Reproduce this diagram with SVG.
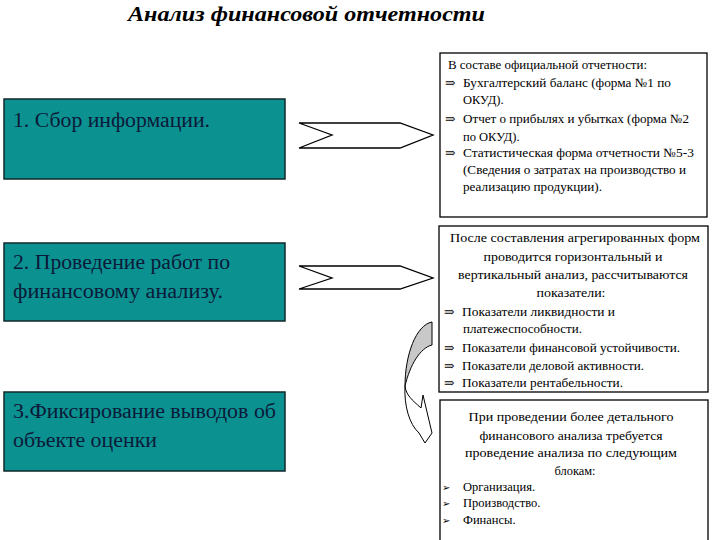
<svg xmlns="http://www.w3.org/2000/svg" width="720" height="540" viewBox="0 0 720 540">
<style>
.bg{fill:#ffffff}
.step{fill:#0c9191;stroke:#10282a;stroke-width:1.5}
.st{font-family:'Liberation Serif','Times New Roman',Times,'Noto Serif','DejaVu Serif',serif;font-size:20px;fill:#0a1a38}
.box{fill:#ffffff;stroke:#000000;stroke-width:1.3}
.t{font-family:'Liberation Serif','Times New Roman',Times,'Noto Serif','DejaVu Serif',serif;font-size:12.5px;fill:#000000}
.c{text-anchor:middle}
.title{font-family:'Liberation Serif','Times New Roman',Times,'Noto Serif','DejaVu Serif',serif;font-size:21px;font-weight:bold;font-style:italic;fill:#000000}
.chev{fill:#ffffff;stroke:#000000;stroke-width:1.3}
.curveg{fill:#c8c8c8;stroke:#000000;stroke-width:1}
.curvew{fill:#ffffff;stroke:#000000;stroke-width:1}
.bul{font-family:'DejaVu Sans',sans-serif;font-size:10px;fill:#000000}
</style>
<rect class="bg" x="0" y="0" width="720" height="540"/>
<text class="title" x="128" y="21" textLength="357" lengthAdjust="spacingAndGlyphs">Анализ финансовой отчетности</text>

<g id="step1">
<rect class="step" x="4" y="99" width="281" height="80"/>
<text class="st" x="13" y="127" textLength="197" lengthAdjust="spacingAndGlyphs">1. Сбор информации.</text>
</g>
<g id="step2">
<rect class="step" x="4" y="243" width="281" height="78"/>
<text class="st" x="13" y="269" textLength="217" lengthAdjust="spacingAndGlyphs">2. Проведение работ по</text>
<text class="st" x="13" y="298" textLength="210" lengthAdjust="spacingAndGlyphs">финансовому анализу.</text>
</g>
<g id="step3">
<rect class="step" x="4" y="392" width="281" height="79"/>
<text class="st" x="13" y="418" textLength="263" lengthAdjust="spacingAndGlyphs">3.Фиксирование выводов об</text>
<text class="st" x="13" y="447" textLength="144" lengthAdjust="spacingAndGlyphs">объекте оценки</text>
</g>

<g id="infoA">
<rect class="box" x="440" y="53" width="267" height="164"/>
<text class="t" x="448" y="69" textLength="199" lengthAdjust="spacingAndGlyphs">В составе официальной отчетности:</text>
<text class="t" x="445" y="87">⇒</text>
<text class="t" x="463" y="87" textLength="208" lengthAdjust="spacingAndGlyphs">Бухгалтерский баланс (форма №1 по</text>
<text class="t" x="463" y="104">ОКУД).</text>
<text class="t" x="445" y="123">⇒</text>
<text class="t" x="463" y="123" textLength="226" lengthAdjust="spacingAndGlyphs">Отчет о прибылях и убытках (форма №2</text>
<text class="t" x="463" y="141">по ОКУД).</text>
<text class="t" x="445" y="157">⇒</text>
<text class="t" x="463" y="157" textLength="231" lengthAdjust="spacingAndGlyphs">Статистическая форма отчетности №5-3</text>
<text class="t" x="463" y="174" textLength="223" lengthAdjust="spacingAndGlyphs">(Сведения о затратах на производство и</text>
<text class="t" x="463" y="191" textLength="139" lengthAdjust="spacingAndGlyphs">реализацию продукции).</text>
</g>

<g id="infoB">
<rect class="box" x="439" y="226" width="269" height="166"/>
<text class="t c" x="575" y="242" textLength="250" lengthAdjust="spacingAndGlyphs">После составления агрегированных форм</text>
<text class="t c" x="573" y="261" textLength="179" lengthAdjust="spacingAndGlyphs">проводится горизонтальный и</text>
<text class="t c" x="573" y="279" textLength="230" lengthAdjust="spacingAndGlyphs">вертикальный анализ, рассчитываются</text>
<text class="t c" x="571" y="297" textLength="69" lengthAdjust="spacingAndGlyphs">показатели:</text>
<text class="t" x="444" y="316">⇒</text>
<text class="t" x="462" y="316" textLength="153" lengthAdjust="spacingAndGlyphs">Показатели ликвидности и</text>
<text class="t" x="463" y="333" textLength="119" lengthAdjust="spacingAndGlyphs">платежеспособности.</text>
<text class="t" x="444" y="352">⇒</text>
<text class="t" x="462" y="352" textLength="218" lengthAdjust="spacingAndGlyphs">Показатели финансовой устойчивости.</text>
<text class="t" x="444" y="370">⇒</text>
<text class="t" x="462" y="370" textLength="182" lengthAdjust="spacingAndGlyphs">Показатели деловой активности.</text>
<text class="t" x="444" y="387">⇒</text>
<text class="t" x="462" y="387" textLength="161" lengthAdjust="spacingAndGlyphs">Показатели рентабельности.</text>
</g>

<g id="infoC">
<rect class="box" x="440" y="400" width="268" height="146"/>
<text class="t c" x="571" y="421" textLength="205" lengthAdjust="spacingAndGlyphs">При проведении более детального</text>
<text class="t c" x="571" y="440" textLength="183" lengthAdjust="spacingAndGlyphs">финансового анализа требуется</text>
<text class="t c" x="571" y="457" textLength="212" lengthAdjust="spacingAndGlyphs">проведение анализа по следующим</text>
<text class="t c" x="575" y="475" textLength="41" lengthAdjust="spacingAndGlyphs">блокам:</text>
<text class="bul" x="442" y="491">➢</text>
<text class="t" x="463" y="491">Организация.</text>
<text class="bul" x="442" y="507">➢</text>
<text class="t" x="463" y="507">Производство.</text>
<text class="bul" x="442" y="524">➢</text>
<text class="t" x="463" y="524">Финансы.</text>
</g>

<g id="connectors">
<polygon class="chev" points="299,123 400,123 433,135 400,148 299,148 332,135"/>
<polygon class="chev" points="299,266 400,266 433,278 400,289 299,289 332,278"/>
<path class="curveg" d="M432,322 C416,325 405,355 405,386 C410,365 420,348 432,345 Z"/>
<path class="curvew" d="M405,386 C404,405 409,424 419,433 L425,443 L432,433 L423,395 L421,408 C412,400 406,395 405,386 Z"/>
</g>
</svg>
